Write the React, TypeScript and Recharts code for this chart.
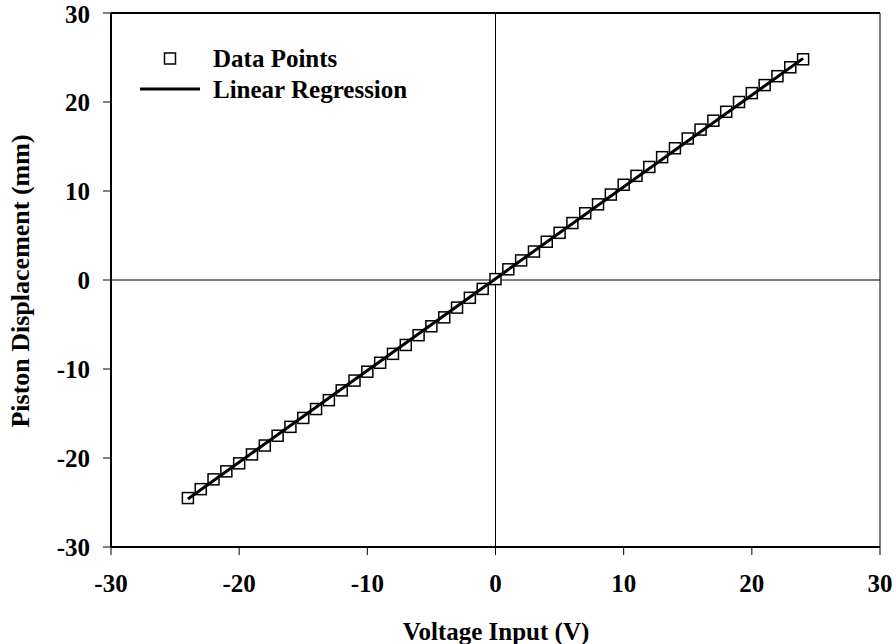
import React from "react";
import {
  ComposedChart,
  Scatter,
  XAxis,
  YAxis,
  ReferenceLine,
  Label,
} from "recharts";

const voltage = [
  -24, -23, -22, -21, -20, -19, -18, -17, -16, -15, -14, -13, -12, -11, -10, -9, -8, -7, -6, -5, -4, -3, -2, -1,
  0, 1, 2, 3, 4, 5, 6, 7, 8, 9, 10, 11, 12, 13, 14, 15, 16, 17, 18, 19, 20, 21, 22, 23, 24,
];
const displacement = [
  -24.5, -23.5, -22.4, -21.5, -20.6, -19.6, -18.6, -17.5, -16.5, -15.5, -14.5, -13.5, -12.4, -11.3, -10.3, -9.3,
  -8.3, -7.3, -6.2, -5.2, -4.2, -3.1, -2.0, -1.0, 0.1, 1.2, 2.2, 3.2, 4.3, 5.3, 6.4, 7.5, 8.5, 9.6, 10.7, 11.7,
  12.7, 13.8, 14.8, 15.9, 16.9, 17.9, 18.9, 20.0, 21.0, 21.9, 22.9, 23.9, 24.8,
];
const fitX = [-24, 24];
const fitY = [-24.6, 24.9];
const ticks = [-30, -20, -10, 0, 10, 20, 30];

const points = voltage.map((v, i) => ({ x: v, y: displacement[i] }));
const fitLine = fitX.map((v, i) => ({ x: v, y: fitY[i] }));

const FONT = "Liberation Serif, Times New Roman, serif";

function Square(props: any) {
  const { cx, cy } = props;
  if (cx == null || cy == null) return null;
  return <rect x={cx - 5.5} y={cy - 5.5} width={11} height={11} fill="white" stroke="black" strokeWidth={1.5} />;
}

const tickStyle = { fontFamily: FONT, fontWeight: "bold", fontSize: 25, fill: "black" };

export default function App() {
  return (
    <div
      style={{
        position: "absolute",
        left: 0,
        top: 0,
        width: 896,
        height: 644,
        background: "white",
        fontFamily: FONT,
      }}
    >
      <ComposedChart width={896} height={644} margin={{ top: 13, right: 16, bottom: 0, left: 0 }}>
        <XAxis
          type="number"
          dataKey="x"
          domain={[-30, 30]}
          ticks={ticks}
          allowDataOverflow
          height={97}
          tickSize={8}
          tickMargin={19}
          tick={tickStyle}
          axisLine={{ stroke: "black", strokeWidth: 2 }}
          tickLine={{ stroke: "black", strokeWidth: 1 }}
        >
          <Label
            content={() => (
              <text x={496} y={640} textAnchor="middle" fontFamily={FONT} fontWeight="bold" fontSize={25} fill="black">
                Voltage Input (V)
              </text>
            )}
          />
        </XAxis>
        <YAxis
          type="number"
          dataKey="y"
          domain={[-30, 30]}
          ticks={ticks}
          allowDataOverflow
          width={111}
          tickSize={8}
          tickMargin={13}
          tick={tickStyle}
          axisLine={{ stroke: "black", strokeWidth: 2 }}
          tickLine={{ stroke: "black", strokeWidth: 1 }}
        >
          <Label
            content={() => (
              <text
                x={29}
                y={281}
                transform="rotate(-90 29 281)"
                textAnchor="middle"
                fontFamily={FONT}
                fontWeight="bold"
                fontSize={26}
                fill="black"
              >
                Piston Displacement (mm)
              </text>
            )}
          />
        </YAxis>
        <ReferenceLine y={30} stroke="black" strokeWidth={2} />
        <ReferenceLine x={30} stroke="black" strokeWidth={1} />
        <ReferenceLine x={0} stroke="black" strokeWidth={1} />
        <ReferenceLine y={0} stroke="black" strokeWidth={1} />
        <Scatter data={points} shape={<Square />} isAnimationActive={false} />
        <Scatter
          data={fitLine}
          line={{ stroke: "black", strokeWidth: 3 }}
          shape={() => null}
          isAnimationActive={false}
        />
      </ComposedChart>
      <svg width={896} height={644} style={{ position: "absolute", left: 0, top: 0, pointerEvents: "none" }}>
        <rect x={164.5} y={53} width={11} height={11} fill="white" stroke="black" strokeWidth={1.5} />
        <text x={213} y={67} fontFamily={FONT} fontWeight="bold" fontSize={25} fill="black">
          Data Points
        </text>
        <line x1={140} y1={89} x2={200} y2={89} stroke="black" strokeWidth={3} />
        <text x={213} y={98} fontFamily={FONT} fontWeight="bold" fontSize={25} fill="black">
          Linear Regression
        </text>
      </svg>
    </div>
  );
}
